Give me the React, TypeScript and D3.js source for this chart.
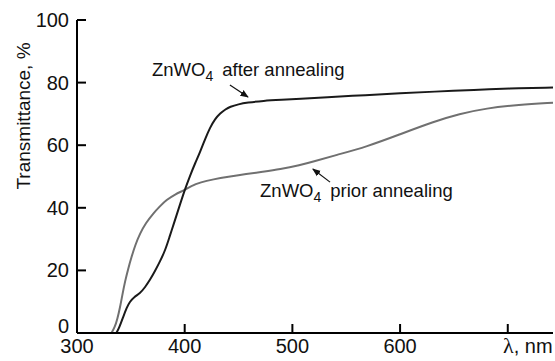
import React from "react";
import * as d3 from "d3";

// wavelength (nm) / transmittance (%)
const afterLambda = [336.5, 339, 343, 346, 349, 353, 358.5, 363, 367.8, 372, 377, 382, 386, 390, 394, 400, 405, 410, 414, 419, 423.5, 428, 433, 438, 442, 450, 458, 473, 490, 507, 530, 569, 600, 631, 670, 700, 742];
const afterT = [0, 1.5, 5.2, 8, 10, 11.5, 12.7, 14.5, 17, 19.5, 22.8, 26.5, 30.8, 35, 39.3, 45.7, 50.3, 54.5, 57.6, 62, 65.6, 68.3, 70.2, 71.5, 72.3, 73.1, 73.6, 74.2, 74.5, 74.8, 75.3, 76, 76.6, 77.1, 77.7, 78.1, 78.4];

const priorLambda = [332, 335, 337.5, 340, 342, 344.6, 347.5, 350.7, 354, 358.5, 364, 370.8, 377, 383, 391, 400, 405, 415, 426.6, 440, 457.6, 472, 488.5, 507, 520, 540, 569, 600, 631, 655, 680, 710, 742];
const priorT = [0, 1.8, 4.5, 8.2, 12, 16.5, 20.5, 24.4, 28, 31.8, 35.2, 38.2, 40.5, 42.5, 44.3, 45.7, 46.8, 48.2, 49.1, 49.9, 50.8, 51.5, 52.3, 53.6, 54.8, 56.8, 59.5, 63.5, 67.5, 70, 71.8, 72.9, 73.6];

const xTicks = [300, 400, 500, 600, 700];
const xTickLabels = ["300", "400", "500", "600", ""];
const yTicks = [0, 20, 40, 60, 80, 100];

// annotation anchors in data units: [text lambda, text T, arrow tail lambda, tail T, tip lambda, tip T]
const labelAfter = [369.6, 82.1, 442, 79.2, 458.8, 75.4];
const labelPrior = [470, 43.5, 535, 48.2, 519, 52.4];

const W = 555;
const H = 361;
const font = "'Liberation Sans', Arial, Helvetica, sans-serif";

export default function App() {
  const x = d3.scaleLinear().domain([300, 742]).range([77, 553]);
  const y = d3.scaleLinear().domain([0, 100]).range([333, 20]);

  const line = d3
    .line<[number, number]>()
    .x((d) => x(d[0]))
    .y((d) => y(d[1]))
    .curve(d3.curveBasis);

  const afterPath = line(afterLambda.map((l, i) => [l, afterT[i]]));
  const priorPath = line(priorLambda.map((l, i) => [l, priorT[i]]));

  const annotation = (a: number[], rest: string) => (
    <g>
      <text x={x(a[0])} y={y(a[1])} fontSize={18.5} fontFamily={font} fill="#111">
        ZnWO
        <tspan fontSize={14} dy={5}>4</tspan>
        <tspan dx={9} dy={-5}>{rest}</tspan>
      </text>
      <line
        x1={x(a[2])}
        y1={y(a[3])}
        x2={x(a[4])}
        y2={y(a[5])}
        stroke="#111"
        strokeWidth={1.2}
        markerEnd="url(#arrow)"
      />
    </g>
  );

  return (
    <svg width={W} height={H} style={{ position: "absolute", left: 0, top: 0, background: "#fff" }}>
      <defs>
        <marker id="arrow" viewBox="0 0 10 10" refX="9" refY="5" markerWidth="7" markerHeight="7" orient="auto">
          <path d="M0,1 L10,5 L0,9 z" fill="#111" />
        </marker>
      </defs>

      {/* curves */}
      <path d={priorPath ?? ""} fill="none" stroke="#707070" strokeWidth={2} />
      <path d={afterPath ?? ""} fill="none" stroke="#1a1a1a" strokeWidth={2} />

      {/* axes */}
      <line x1={x(300)} x2={x(742)} y1={y(0)} y2={y(0)} stroke="#000" strokeWidth={2} />
      <line x1={x(300)} x2={x(300)} y1={y(0)} y2={y(100)} stroke="#000" strokeWidth={2} />
      {xTicks.map((t, i) => (
        <g key={t}>
          <line x1={x(t)} x2={x(t)} y1={y(0)} y2={y(0) - 9} stroke="#000" strokeWidth={2} />
          <text x={x(t)} y={353} textAnchor="middle" fontSize={20} fontFamily={font} fill="#111">
            {xTickLabels[i]}
          </text>
        </g>
      ))}
      <text x={503} y={353} fontSize={20} fontFamily={font} fill="#111">
        <tspan fontFamily="'Liberation Serif', 'Times New Roman', serif" fontSize={22}>λ</tspan>, nm
      </text>
      {yTicks.map((t) => (
        <g key={t}>
          <line x1={x(300)} x2={x(300) + 9} y1={y(t)} y2={y(t)} stroke="#000" strokeWidth={2} />
          <text
            x={69}
            y={t === 0 ? y(t) : y(t) + 7}
            textAnchor="end"
            fontSize={20}
            fontFamily={font}
            fill="#111"
          >
            {t}
          </text>
        </g>
      ))}
      <text
        transform="translate(30,116) rotate(-90)"
        textAnchor="middle"
        fontSize={19}
        fontFamily={font}
        fill="#111"
      >
        Transmittance, %
      </text>

      {annotation(labelAfter, "after annealing")}
      {annotation(labelPrior, "prior annealing")}
    </svg>
  );
}
